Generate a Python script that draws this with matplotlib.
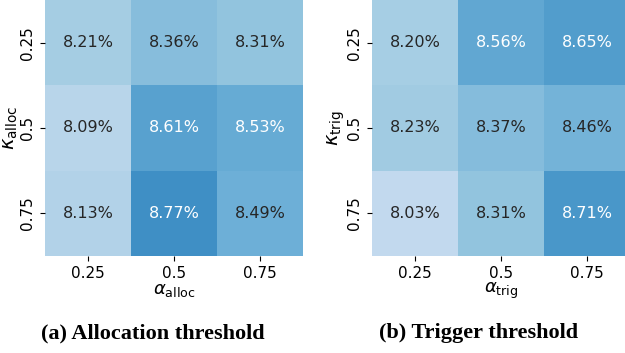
import numpy as np
import matplotlib
matplotlib.use("Agg")
import matplotlib.pyplot as plt
import seaborn as sns

ticks = ["0.25", "0.5", "0.75"]
alloc_vals = [[8.21, 8.36, 8.31],
              [8.09, 8.61, 8.53],
              [8.13, 8.77, 8.49]]
trig_vals = [[8.20, 8.56, 8.65],
             [8.23, 8.37, 8.46],
             [8.03, 8.31, 8.71]]
captions = ["(a) Allocation threshold", "(b) Trigger threshold"]
xlabels = [r"$\alpha_{\mathrm{alloc}}$", r"$\alpha_{\mathrm{trig}}$"]
ylabels = [r"$\kappa_{\mathrm{alloc}}$", r"$\kappa_{\mathrm{trig}}$"]

W, H = 625, 353
fig = plt.figure(figsize=(W / 100, H / 100), dpi=100)
plt.rcParams["mathtext.fontset"] = "dejavusans"

positions = [(45, 0, 258, 256), (372, 0, 258, 256)]
cap_x = [153, 479]
vmin, vmax = 7.5, 9.5

for i, vals in enumerate([alloc_vals, trig_vals]):
    x0, y0, w, h = positions[i]
    ax = fig.add_axes([x0 / W, 1 - (y0 + h) / H, w / W, h / H])
    arr = np.array(vals)
    sns.heatmap(arr, ax=ax, cmap="Blues", vmin=vmin, vmax=vmax, cbar=False,
                annot=False, xticklabels=ticks, yticklabels=ticks)
    for r in range(3):
        for c in range(3):
            v = arr[r, c]
            ax.text(c + 0.5, r + 0.5, f"{v:.2f}%", ha="center", va="center",
                    fontsize=11.5, color="white" if v >= 8.5 else "#262626")
    ax.tick_params(labelsize=11, length=3.5)
    ax.set_xlabel(xlabels[i], fontsize=13, labelpad=0)
    ax.set_ylabel(ylabels[i], fontsize=14, labelpad=0)
    plt.setp(ax.get_yticklabels(), rotation=90, va="center")
    plt.setp(ax.get_xticklabels(), rotation=0)
    fig.text(cap_x[i] / W, 1 - 333 / H, captions[i], ha="center", va="center",
             fontsize=16, fontweight="bold", family="Liberation Serif")

fig.savefig("out.png", dpi=100)
